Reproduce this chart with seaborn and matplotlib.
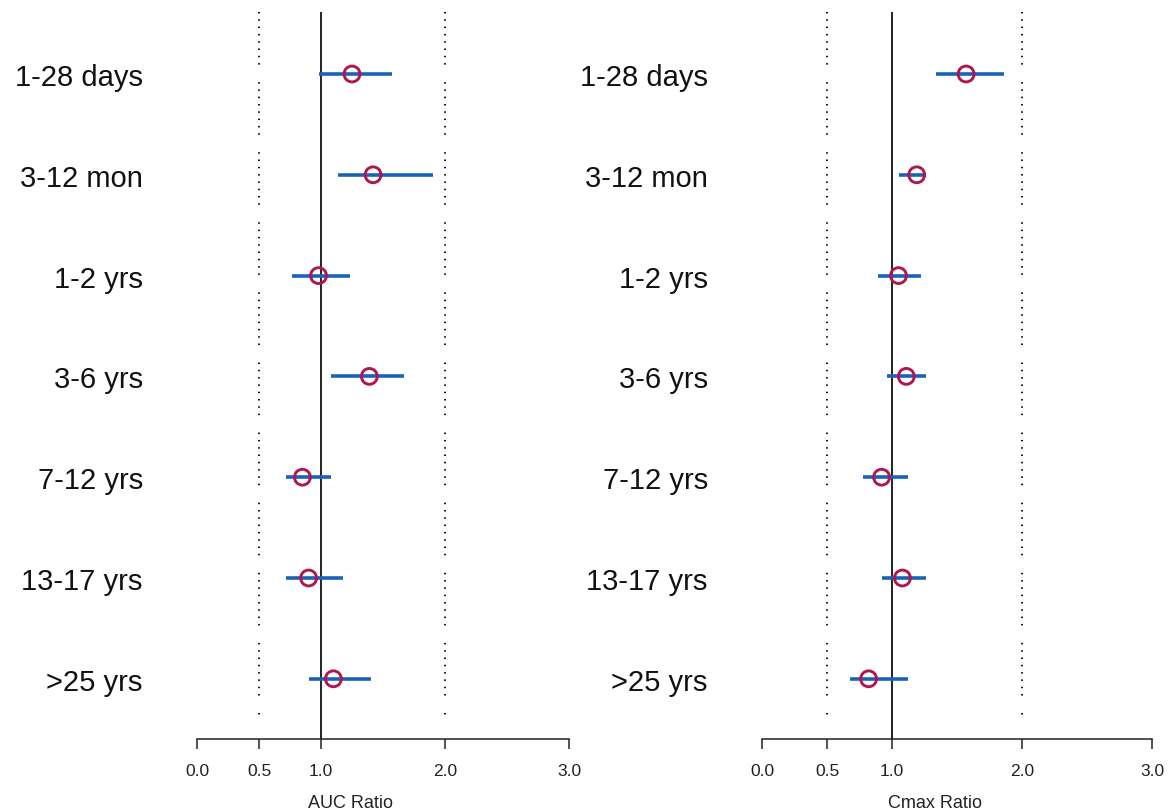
import matplotlib
matplotlib.use("Agg")
import matplotlib.pyplot as plt
import seaborn as sns
import pandas as pd
import numpy as np

# ---------------- data ----------------
age_groups = ["1-28 days", "3-12 mon", "1-2 yrs", "3-6 yrs", "7-12 yrs", "13-17 yrs", ">25 yrs"]

auc_ratio = [1.25, 1.42, 0.98, 1.39, 0.85, 0.90, 1.10]
auc_lower = [0.98, 1.14, 0.77, 1.08, 0.72, 0.72, 0.90]
auc_upper = [1.57, 1.90, 1.23, 1.67, 1.08, 1.18, 1.40]

cmax_ratio = [1.57, 1.19, 1.05, 1.11, 0.92, 1.08, 0.82]
cmax_lower = [1.34, 1.05, 0.89, 0.96, 0.78, 0.92, 0.68]
cmax_upper = [1.86, 1.25, 1.22, 1.26, 1.12, 1.26, 1.12]

x_ticks = [0.0, 0.5, 1.0, 2.0, 3.0]
x_tick_labels = ["0.0", "0.5", "1.0", "2.0", "3.0"]
ref_solid = 1.0
ref_dotted = [0.5, 2.0]

# ---------------- style ----------------
sns.set_theme(style="white")
plt.rcParams["font.family"] = ["Liberation Sans", "DejaVu Sans"]
plt.rcParams["lines.scale_dashes"] = False

W, H = 1168, 812
fig = plt.figure(figsize=(W / 100, H / 100), dpi=100)

marker_color = "#B0174F"
line_color = "#1A62B8"

def px_to_pt(p):
    return p * 72 / 100

# row positions: row 0 at 75 px, spacing ~100.8 px; axes top 13 px, bottom 740 px
row_sp = 100.8
ax_top_px, ax_bot_px = 13, 740
ylim_top = (ax_top_px - 75) / row_sp
ylim_bot = (ax_bot_px - 75) / row_sp
dot_end = (718 - 75) / row_sp

dash_on = px_to_pt(1.5)
dash_off = px_to_pt(7.3) - dash_on
gap_off = px_to_pt(19.0) - dash_on
dash_pattern = (0, tuple([dash_on, dash_off] * 7 + [dash_on, gap_off]))

panels = [
    dict(left=197, right=569, label="AUC Ratio", label_x=351,
         ratio=auc_ratio, lo=auc_lower, hi=auc_upper),
    dict(left=762, right=1152, label="Cmax Ratio", label_x=935,
         ratio=cmax_ratio, lo=cmax_lower, hi=cmax_upper),
]

for p in panels:
    ax = fig.add_axes([p["left"] / W, (H - ax_bot_px) / H,
                       (p["right"] - p["left"]) / W, (ax_bot_px - ax_top_px) / H])
    df = pd.DataFrame({"group": age_groups, "ratio": p["ratio"],
                       "lo": p["lo"], "hi": p["hi"], "pos": np.arange(len(age_groups))})

    # reference lines
    for xr in ref_dotted:
        ax.plot([xr, xr], [ylim_top, dot_end], color="#111111", lw=1.4,
                linestyle=dash_pattern, solid_capstyle="butt", zorder=1)
    ax.axvline(ref_solid, color="#111111", lw=1.3, zorder=2)

    # CI lines
    ax.hlines(df["pos"], df["lo"], df["hi"], color=line_color, lw=2.6, zorder=3)
    # point estimates
    sns.scatterplot(data=df, x="ratio", y="pos", ax=ax, marker="o", s=130,
                    facecolor="none", edgecolor=marker_color, linewidth=2.1,
                    zorder=4, legend=False)

    ax.set_xlim(0, 3)
    ax.set_ylim(ylim_bot, ylim_top)
    ax.set_xticks(x_ticks)
    ax.set_xticklabels(x_tick_labels, fontsize=12.5, color="#222222")
    ax.set_yticks(df["pos"])
    ax.set_yticklabels(age_groups, fontsize=21, color="#111111")
    ax.tick_params(axis="y", length=0, pad=39)
    ax.tick_params(axis="x", direction="out", length=7, width=1.1, color="#222222",
                   pad=10, bottom=True)
    for s in ["top", "right", "left"]:
        ax.spines[s].set_visible(False)
    ax.spines["bottom"].set_color("#222222")
    ax.spines["bottom"].set_linewidth(1.1)
    ax.set_ylabel("")
    ax.set_xlabel(p["label"], fontsize=13, color="#222222")
    ax.xaxis.set_label_coords((p["label_x"] - p["left"]) / (p["right"] - p["left"]),
                              (ax_bot_px - 804) / (ax_bot_px - ax_top_px))
    ax.xaxis.label.set_va("center")
    ax.set_facecolor("white")
    ax.patch.set_alpha(0)

fig.savefig("out.png", dpi=100, facecolor="white")
